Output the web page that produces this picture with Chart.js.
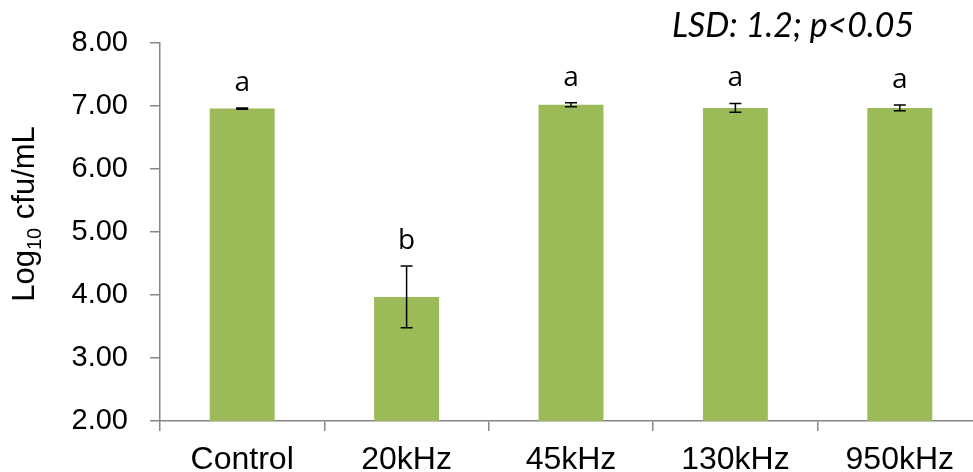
<!DOCTYPE html>
<html>
<head>
<meta charset="utf-8">
<script src="https://cdn.jsdelivr.net/npm/chart.js@4.4.1/dist/chart.umd.min.js"></script>
<style>
  body { margin: 0; background: #fff; }
  #wrap { width: 973px; height: 472px; overflow: hidden; }
</style>
</head>
<body>
<div id="wrap"><canvas id="barChart" width="982" height="472"></canvas></div>
<script>
// data
var categories = ["Control", "20kHz", "45kHz", "130kHz", "950kHz"];
var means = [6.96, 3.97, 7.02, 6.97, 6.97];
var errors = [0.01, 0.49, 0.03, 0.07, 0.045];
var letters = ["a", "b", "a", "a", "a"];
var yMin = 2, yMax = 8, yStep = 1;
var note = "LSD: 1.2; p<0.05";

var axisGray = "#868686";
var sans = "'Liberation Sans', Arial, sans-serif";

// error bars + significance letters
var errorBars = {
  id: "errorBars",
  afterDatasetsDraw: function(chart) {
    var ctx = chart.ctx;
    var y = chart.scales.y;
    var meta = chart.getDatasetMeta(0);
    ctx.save();
    ctx.strokeStyle = "#000";
    ctx.lineWidth = 1.5;
    meta.data.forEach(function(bar, i) {
      var top = y.getPixelForValue(means[i] + errors[i]);
      var bot = y.getPixelForValue(means[i] - errors[i]);
      ctx.beginPath();
      ctx.moveTo(bar.x, top); ctx.lineTo(bar.x, bot);
      ctx.moveTo(bar.x - 6, top); ctx.lineTo(bar.x + 6, top);
      ctx.moveTo(bar.x - 6, bot); ctx.lineTo(bar.x + 6, bot);
      ctx.stroke();
      ctx.fillStyle = "#000";
      ctx.font = "28px 'Open Sans', sans-serif";
      ctx.textAlign = "center";
      ctx.textBaseline = "alphabetic";
      ctx.fillText(letters[i], bar.x, top - 17);
    });
    ctx.restore();
  }
};

// y title with subscript, and the LSD note
var extraText = {
  id: "extraText",
  afterDraw: function(chart) {
    var ctx = chart.ctx;
    ctx.save();
    ctx.fillStyle = "#000";
    var big = "31px " + sans;
    var small = "20px " + sans;
    ctx.font = big;
    var w1 = ctx.measureText("Log").width;
    var w3 = ctx.measureText(" cfu/mL").width;
    ctx.font = small;
    var w2 = ctx.measureText("10").width;
    var total = w1 + w2 + w3;
    ctx.translate(34, 214);
    ctx.rotate(-Math.PI / 2);
    ctx.textBaseline = "alphabetic";
    ctx.textAlign = "left";
    var x = -total / 2;
    ctx.font = big;
    ctx.fillText("Log", x, 0);
    ctx.font = small;
    ctx.fillText("10", x + w1, 7);
    ctx.font = big;
    ctx.fillText(" cfu/mL", x + w1 + w2, 0);
    ctx.restore();

    ctx.save();
    ctx.fillStyle = "#000";
    ctx.font = "italic 100px Lato, 'Open Sans', sans-serif";
    var size = Math.min(34, 100 * 242 / ctx.measureText(note).width);
    ctx.font = "italic " + size.toFixed(1) + "px Lato, 'Open Sans', sans-serif";
    ctx.textAlign = "left";
    ctx.textBaseline = "alphabetic";
    ctx.fillText(note, 672, 37);
    ctx.restore();
  }
};

var ctxB = document.getElementById("barChart").getContext("2d");
var myBarChart = new Chart(ctxB, {
  type: "bar",
  data: {
    labels: categories,
    datasets: [{
      data: means,
      backgroundColor: "#9BBB59",
      categoryPercentage: 1,
      barPercentage: 0.395
    }]
  },
  options: {
    responsive: false,
    animation: false,
    layout: { padding: { top: 43, left: 0, right: 0, bottom: 0 } },
    plugins: {
      legend: { display: false },
      tooltip: { enabled: false }
    },
    scales: {
      x: {
        grid: { display: true, drawOnChartArea: false, tickLength: 10, color: axisGray, lineWidth: 1.5 },
        border: { color: axisGray, width: 1.5 },
        ticks: { color: "#000", font: { family: sans, size: 32 }, padding: 10, maxRotation: 0 },
        afterFit: function(scale) { scale.height = 51; }
      },
      y: {
        min: yMin,
        max: yMax,
        grid: { display: true, drawOnChartArea: false, tickLength: 10, color: axisGray, lineWidth: 1.5 },
        border: { color: axisGray, width: 1.5 },
        ticks: {
          stepSize: yStep,
          color: "#000",
          font: { family: sans, size: 29 },
          padding: 22,
          callback: function(v) { return v.toFixed(2); }
        },
        afterFit: function(scale) { scale.width = 160; }
      }
    }
  },
  plugins: [errorBars, extraText]
});
</script>
</body>
</html>
